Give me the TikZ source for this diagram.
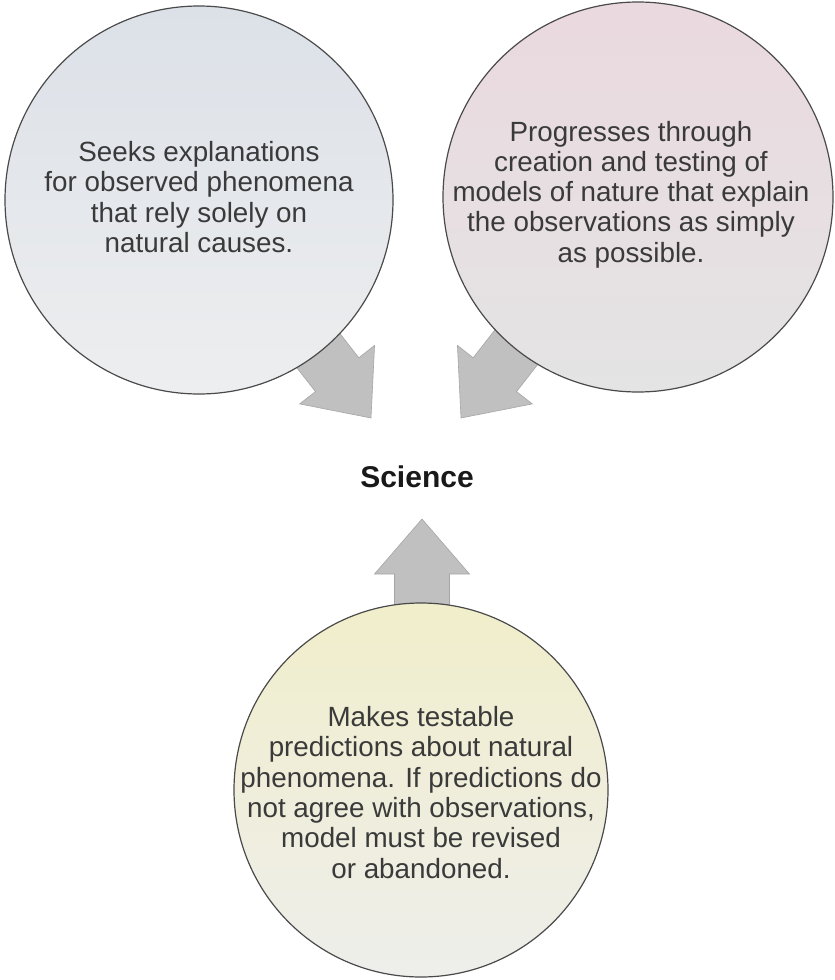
\documentclass[tikz,border=0pt]{standalone}
\usepackage{fontspec}
\setmainfont{Liberation Sans}
\definecolor{txt}{HTML}{3A3A3A}
\definecolor{edge}{HTML}{4A4A4A}
\definecolor{arrowgray}{HTML}{C0C0C0}
\definecolor{arrowedge}{HTML}{A6A6A6}
\definecolor{leftTop}{HTML}{DCE1E8}
\definecolor{leftBot}{HTML}{EDEEEF}
\definecolor{rightTop}{HTML}{EAD9DF}
\definecolor{rightBot}{HTML}{E4E4E4}
\definecolor{botTop}{HTML}{F1EECB}
\definecolor{botBot}{HTML}{EEEEEB}
\begin{document}
\begin{tikzpicture}[x=1pt,y=-1pt,
  bubble/.style={circle, draw=edge, line width=1.2pt, minimum size=#1, inner sep=0pt},
  bubbletext/.style={align=center, text=txt, font=\fontsize{27.8}{30.3}\selectfont},
  blockarrow/.style={fill=arrowgray, draw=arrowedge, line width=0.6pt, line join=miter}]
\useasboundingbox (0,0) rectangle (835,980);
\fill[white] (0,0) rectangle (835,980);

% block arrows (drawn first, the circles cover their tails)
\begin{scope}[shift={(371,418)}, rotate=-52]
  \path[blockarrow] (0,0) -- (-55,47.5) -- (-55,27.5) -- (-140,27.5)
    -- (-140,-27.5) -- (-55,-27.5) -- (-55,-47.5) -- cycle;
\end{scope}
\begin{scope}[shift={(461,418)}, rotate=-128]
  \path[blockarrow] (0,0) -- (-55,47.5) -- (-55,27.5) -- (-140,27.5)
    -- (-140,-27.5) -- (-55,-27.5) -- (-55,-47.5) -- cycle;
\end{scope}
\begin{scope}[shift={(422,519)}, rotate=90]
  \path[blockarrow] (0,0) -- (-55,47.5) -- (-55,27.5) -- (-140,27.5)
    -- (-140,-27.5) -- (-55,-27.5) -- (-55,-47.5) -- cycle;
\end{scope}

% circles
\node[bubble=388pt, top color=leftTop, bottom color=leftBot] (seek) at (199,200) {};
\node[bubble=390pt, top color=rightTop, bottom color=rightBot] (prog) at (638,197) {};
\node[bubble=374pt, top color=botTop, bottom color=botBot] (pred) at (421,790) {};

% texts
\node[bubbletext] (seektext) at (199,197)
  {Seeks explanations\\for observed phenomena\\that rely solely on\\natural causes.};
\node[bubbletext] (progtext) at (631,194.5)
  {Progresses through\\creation and testing of\\models of nature that explain\\the observations as simply\\as possible.};
\node[bubbletext] (predtext) at (421,792.5)
  {Makes testable\\predictions about natural\\phenomena. If predictions do\\not agree with observations,\\model must be revised\\or abandoned.};

\node[anchor=base, font=\bfseries\fontsize{30}{36}\selectfont, text=black!90] (science) at (417,487) {Science};
\end{tikzpicture}
\end{document}
